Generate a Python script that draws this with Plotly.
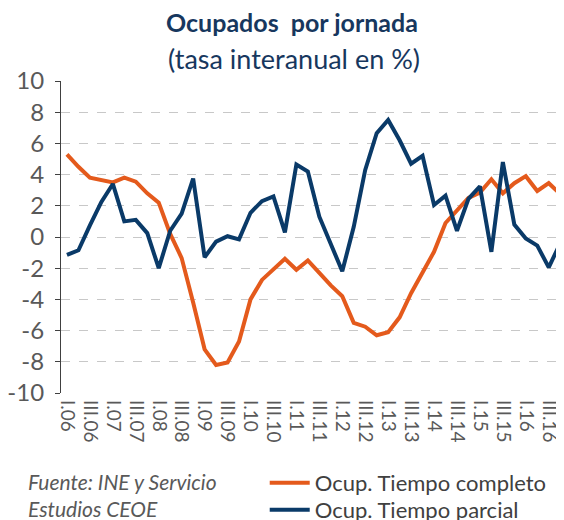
import plotly.graph_objects as go

quarters = []
for yr in range(6, 17):
    for q in ["I", "II", "III", "IV"]:
        quarters.append(f"{q}.{yr:02d}")

tiempo_completo = [5.3, 4.5, 3.8, 3.65, 3.5, 3.8, 3.55, 2.8, 2.2, 0.2, -1.35, -4.2,
                   -7.2, -8.2, -8.05, -6.7, -4.0, -2.75, -2.05, -1.4, -2.1, -1.5,
                   -2.3, -3.1, -3.8, -5.5, -5.75, -6.3, -6.1, -5.15, -3.6, -2.3,
                   -0.95, 0.9, 1.7, 2.5, 2.85, 3.7, 2.8, 3.45, 3.9, 2.95, 3.45, 2.75]
tiempo_parcial = [-1.15, -0.85, 0.75, 2.25, 3.4, 1.0, 1.1, 0.25, -2.0, 0.4, 1.5, 3.75,
                  -1.3, -0.3, 0.05, -0.15, 1.55, 2.3, 2.6, 0.3, 4.65, 4.2,
                  1.3, -0.45, -2.2, 0.65, 4.3, 6.65, 7.5, 6.2, 4.7, 5.2,
                  2.05, 2.65, 0.4, 2.45, 3.25, -0.95, 4.8, 0.8, -0.1, -0.55, -1.95, -0.4]

tick_labels = quarters[::2]
tick_pos = list(range(0, len(quarters), 2))
idx = list(range(len(quarters)))
y_ticks = list(range(-10, 11, 2))
y_tick_text = [str(v) for v in y_ticks]

orange = "#E45A1C"
navy = "#0A3A68"
gray = "#595959"
title_color = "#17375E"
font_family = "Lato, 'Open Sans', sans-serif"

fig = go.Figure()
fig.add_trace(go.Scatter(x=idx, y=tiempo_completo, mode="lines",
                         name="Ocup. Tiempo completo", legend="legend",
                         line=dict(color=orange, width=4)))
fig.add_trace(go.Scatter(x=idx, y=tiempo_parcial, mode="lines",
                         name="Ocup. Tiempo parcial", legend="legend2",
                         line=dict(color=navy, width=4)))

legend_style = dict(xanchor="left", yanchor="middle",
                    font=dict(size=22, color="#404040"),
                    bgcolor="rgba(0,0,0,0)", itemwidth=40)

xr = [-0.52, 43.33]
fig.update_layout(
    width=556, height=512,
    margin=dict(l=53, r=0, t=73, b=127, autoexpand=False),
    paper_bgcolor="white", plot_bgcolor="white",
    font=dict(family=font_family, color=gray),
    showlegend=True,
    legend=dict(x=0.405, y=(393 - 483) / 312, **legend_style),
    legend2=dict(x=0.405, y=(393 - 510) / 312, **legend_style),
    xaxis=dict(range=xr, tickmode="array", tickvals=tick_pos, ticktext=tick_labels,
               tickangle=90, tickfont=dict(size=19, color=gray),
               ticklabelstandoff=6, automargin=False,
               showgrid=False, zeroline=False, showline=False, ticks=""),
    xaxis2=dict(range=xr, overlaying="x", anchor="free", position=0.5,
                side="bottom", showline=True, linecolor="black", linewidth=1,
                ticks="outside", ticklen=6, tickcolor="black", tickwidth=1,
                tickmode="array", tickvals=[i + 0.5 for i in idx[:-1]] + [-0.5],
                showticklabels=False, showgrid=False, zeroline=False,
                automargin=False),
    yaxis=dict(range=[-10, 10], tickmode="array", tickvals=y_ticks,
               ticktext=y_tick_text, automargin=False, ticklabelstandoff=6,
               tickfont=dict(size=24, color=gray), showline=True,
               linecolor="#404040", linewidth=1.2, ticks="outside", ticklen=5,
               tickcolor="#404040", showgrid=True, gridcolor="#C8C8C8",
               griddash="dash", gridwidth=1.2, zeroline=False),
)

fig.add_annotation(text="<b>Ocupados  por jornada</b>", xref="paper", yref="paper",
                   x=(292 - 61) / 503, y=(393 - 22) / 312, yanchor="middle",
                   showarrow=False, font=dict(size=25, color=title_color))
fig.add_annotation(text="(tasa interanual en %)", xref="paper", yref="paper",
                   x=(294 - 61) / 503, y=(393 - 58) / 312, yanchor="middle",
                   showarrow=False, font=dict(size=27, color=title_color))
fig.add_annotation(text="<i>Fuente: INE y Servicio<br>Estudios CEOE</i>",
                   xref="paper", yref="paper", x=-0.069, y=-0.238,
                   xanchor="left", yanchor="top", align="left", showarrow=False,
                   font=dict(size=21, color=gray))

fig.write_html("out.html")
